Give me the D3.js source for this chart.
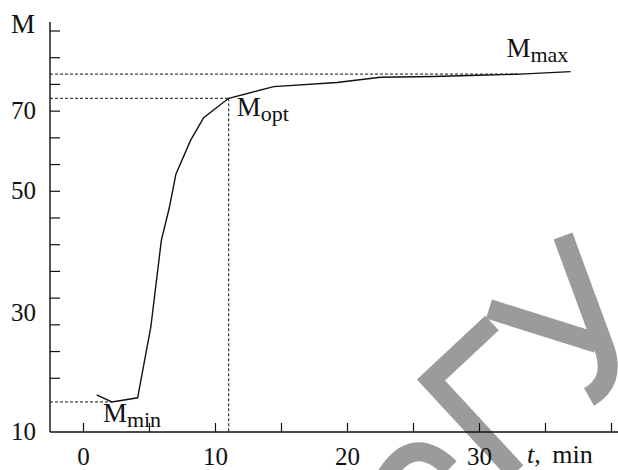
<!DOCTYPE html>
<html><head><meta charset="utf-8">
<script src="https://cdn.jsdelivr.net/npm/d3@7"></script>
<style>body{margin:0;background:#fff}svg{display:block}text{font-family:"Liberation Serif","Times New Roman",serif;fill:#111}</style>
</head><body>
<svg id="c" width="618" height="470"></svg>
<script>
// data
const tValues = [1.0, 2.15, 4.1, 5.1, 5.9, 6.5, 7.0, 8.1, 9.1, 11.0, 14.4, 19.2, 22.5, 26.5, 30.0, 33.1, 36.9];
const mValues = [16.2, 15.0, 15.7, 27.6, 41.9, 47.2, 54.1, 62.4, 68.1, 72.9, 75.8, 76.8, 78.1, 78.3, 78.6, 78.9, 79.5];
const yTickLabels = [10, 30, 50, 70];
const xTickLabels = [0, 10, 20, 30];
const xMinorTicks = [5, 10, 15, 20, 25, 30, 35, 40];
const yMinorTicks = [20, 25, 30, 35, 40, 45, 50, 55, 60, 65, 70, 75, 80, 85];
const mMin = 15.0, mOpt = 72.9, tOpt = 11.0, mMax = 78.9, tMaxEnd = 33.1, tMinEnd = 2.15;

const svg = d3.select("#c");
const x = d3.scaleLinear().domain([0, 40]).range([83.5, 611.5]);
// the figure's value axis is labelled unevenly; follow its label positions
const y = d3.scaleLinear().domain([10, 30, 50, 70, 90]).range([431.7, 312.7, 190.7, 110, 29.3]);
const yMinor = d3.scaleLinear().domain([10, 85]).range([431.7, 31]);
const x0 = 50, y0 = 432;

// watermark
const wm = svg.append("g").attr("fill", "none").attr("stroke", "#9b9b9b").attr("stroke-width", 20);
wm.append("path").attr("d", "M492,323 L431,380 L516,472");
wm.append("path").attr("d", "M489,309 L597,343");
wm.append("path").attr("d", "M563,236 L605,350 Q615,382 589,397");
wm.append("path").attr("d", "M386,476 Q413,432 450,468").attr("stroke-width", 19);

// axes
svg.append("line").attr("x1", x0).attr("x2", x0).attr("y1", 22).attr("y2", y0).attr("stroke", "#111").attr("stroke-width", 1.4);
svg.append("line").attr("x1", x0).attr("x2", 618).attr("y1", y0).attr("y2", y0).attr("stroke", "#111").attr("stroke-width", 1.4);
svg.selectAll(".yt").data(yMinorTicks).join("line")
  .attr("x1", x0).attr("x2", x0 + 10).attr("y1", d => yMinor(d)).attr("y2", d => yMinor(d))
  .attr("stroke", "#111").attr("stroke-width", 1.2);
svg.selectAll(".xt").data([0].concat(xMinorTicks)).join("line")
  .attr("x1", d => x(d)).attr("x2", d => x(d)).attr("y1", y0).attr("y2", y0 - 9)
  .attr("stroke", "#111").attr("stroke-width", 1.2);

svg.selectAll(".yl").data(yTickLabels).join("text")
  .attr("x", 36).attr("y", d => y(d)).attr("dy", "0.35em").attr("text-anchor", "end")
  .attr("font-size", 25).text(d => d);
svg.selectAll(".xl").data(xTickLabels).join("text")
  .attr("x", d => x(d)).attr("y", 465).attr("text-anchor", "middle")
  .attr("font-size", 25).text(d => d);
svg.append("text").attr("x", 11).attr("y", 33).attr("font-size", 27).text("M");
const tl = svg.append("text").attr("x", 527).attr("y", 463).attr("font-size", 26).attr("word-spacing", 5);
tl.append("tspan").attr("font-style", "italic").text("t");
tl.append("tspan").text(", min");

// guide lines
const dash = g => g.attr("stroke", "#111").attr("stroke-width", 1).attr("stroke-dasharray", "3,2").attr("fill", "none");
svg.append("line").attr("x1", x0).attr("x2", x(tMaxEnd)).attr("y1", y(mMax)).attr("y2", y(mMax)).call(dash);
svg.append("line").attr("x1", x0).attr("x2", x(tOpt)).attr("y1", y(mOpt)).attr("y2", y(mOpt)).call(dash);
svg.append("line").attr("x1", x(tOpt)).attr("x2", x(tOpt)).attr("y1", y(mOpt)).attr("y2", y0).call(dash);
svg.append("line").attr("x1", x0).attr("x2", x(tMinEnd)).attr("y1", y(mMin)).attr("y2", y(mMin)).call(dash);

// curve
const pts = tValues.map((t, i) => [t, mValues[i]]);
svg.append("path").datum(pts)
  .attr("d", d3.line().x(d => x(d[0])).y(d => y(d[1])))
  .attr("fill", "none").attr("stroke", "#111").attr("stroke-width", 1.4);

// annotations
function label(px, py, sub) {
  const t = svg.append("text").attr("x", px).attr("y", py).attr("font-size", 27);
  t.append("tspan").text("M");
  t.append("tspan").attr("font-size", 22).attr("dy", 5).text(sub);
}
label(x(tMinEnd) - 9, y(mMin) + 20, "min");
label(x(tOpt) + 8, y(mOpt) + 18, "opt");
label(x(tMaxEnd) - 14, y(mMax) - 17, "max");
</script>
</body></html>
